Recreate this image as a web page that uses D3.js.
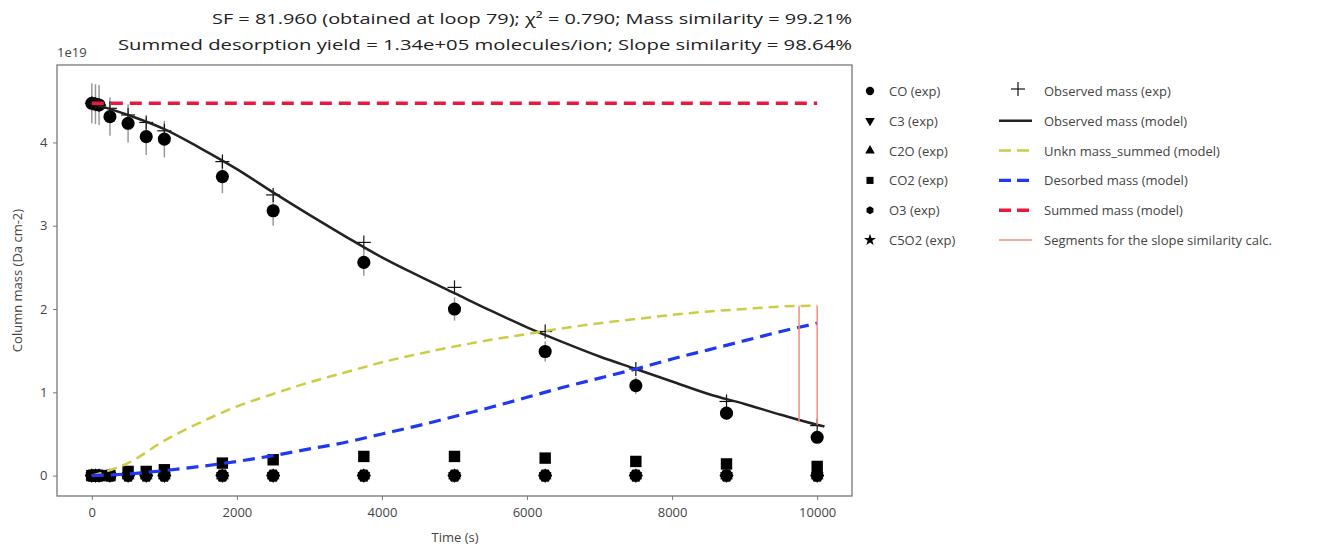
<!DOCTYPE html>
<html>
<head>
<meta charset="utf-8">
<script src="https://cdn.jsdelivr.net/npm/d3@7"></script>
<style>
  body { margin: 0; background: #fff; }
  svg { display: block; }
  text { font-family: "Open Sans", "DejaVu Sans", sans-serif; }
</style>
</head>
<body>
<svg id="chart" width="1343" height="548"></svg>
<script>
// experimental sampling times (s) and values in units of 1e19 Da cm-2
var timesExp = [0, 50, 100, 250, 500, 750, 1000, 1800, 2500, 3750, 5000, 6250, 7500, 8750, 10000];
var coExp   = [4.47, 4.46, 4.45, 4.31, 4.23, 4.07, 4.04, 3.59, 3.18, 2.56, 2.00, 1.49, 1.08, 0.75, 0.46];
var coErr   = [0.24, 0.24, 0.24, 0.23, 0.23, 0.22, 0.22, 0.20, 0.18, 0.16, 0.14, 0.12, 0.10, 0.08, 0.05];
var c3Exp   = [0, 0, 0, 0, 0, 0, 0, 0, 0, 0, 0, 0, 0, 0, 0];
var c2oExp  = [0, 0, 0, 0, 0, 0, 0, 0, 0, 0, 0, 0, 0, 0, 0];
var co2Exp  = [0, 0, 0, 0, 0.05, 0.05, 0.07, 0.15, 0.19, 0.23, 0.23, 0.21, 0.17, 0.14, 0.11];
var o3Exp   = [0, 0, 0, 0, 0, 0, 0, 0, 0, 0, 0, 0, 0, 0, 0];
var c5o2Exp = [0, 0, 0, 0, 0, 0, 0, 0, 0, 0, 0, 0, 0, 0, 0];
var observedExp = [4.47, 4.46, 4.45, 4.41, 4.33, 4.24, 4.14, 3.77, 3.37, 2.80, 2.26, 1.73, 1.28, 0.89, 0.60];

// model curves
var timesModel = [0, 500, 1000, 1500, 2000, 2500, 3000, 3500, 4000, 4500, 5000, 5500, 6000, 6500, 7000, 7500, 8000, 8500, 9000, 9500, 10000, 10100];
var observedModel = [4.47, 4.33, 4.16, 3.93, 3.68, 3.40, 3.13, 2.87, 2.62, 2.40, 2.19, 1.98, 1.78, 1.60, 1.43, 1.28, 1.13, 0.98, 0.86, 0.73, 0.61, 0.59];
var unknModel     = [0, 0.15, 0.42, 0.64, 0.83, 0.98, 1.12, 1.24, 1.36, 1.46, 1.55, 1.63, 1.70, 1.77, 1.83, 1.88, 1.93, 1.97, 2.00, 2.03, 2.04];
var desorbedModel = [0, 0.02, 0.06, 0.11, 0.17, 0.24, 0.32, 0.40, 0.50, 0.60, 0.71, 0.82, 0.94, 1.06, 1.17, 1.28, 1.40, 1.51, 1.62, 1.73, 1.83];
var summedModel   = [4.47, 4.47, 4.47, 4.47, 4.47, 4.47, 4.47, 4.47, 4.47, 4.47, 4.47, 4.47, 4.47, 4.47, 4.47, 4.47, 4.47, 4.47, 4.47, 4.47, 4.47];

// slope similarity segments (time, top, bottom)
var segTimes  = [9750, 10000];
var segTop    = [2.04, 2.04];
var segBottom = [0.64, 0.61];

var xTicks = [0, 2000, 4000, 6000, 8000, 10000];
var yTicks = [0, 1, 2, 3, 4];

var titleLines = [
    "SF = 81.960 (obtained at loop 79); \u03C7\u00B2 = 0.790; Mass similarity = 99.21%",
    "Summed desorption yield = 1.34e+05 molecules/ion; Slope similarity = 98.64%"
];

var svg = d3.select("#chart");
var plotLeft = 57, plotRight = 852, plotTop = 65, plotBottom = 496;

var x = d3.scaleLinear().domain([-480, 10480]).range([plotLeft, plotRight]);
var y = d3.scaleLinear().domain([-0.245, 4.93]).range([plotBottom, plotTop]);

// title
svg.append("text").attr("x", plotRight).attr("y", 24).attr("text-anchor", "end")
    .attr("font-size", 15).attr("fill", "#222")
    .attr("textLength", 640).attr("lengthAdjust", "spacingAndGlyphs")
    .text(titleLines[0]);
svg.append("text").attr("x", plotRight).attr("y", 50).attr("text-anchor", "end")
    .attr("font-size", 15).attr("fill", "#222")
    .attr("textLength", 734).attr("lengthAdjust", "spacingAndGlyphs")
    .text(titleLines[1]);

// axes
var xAxis = svg.append("g").attr("transform", "translate(0," + plotBottom + ")")
    .call(d3.axisBottom(x).tickValues(xTicks).tickSize(4).tickSizeOuter(0).tickFormat(d3.format("d")));
var yAxis = svg.append("g").attr("transform", "translate(" + plotLeft + ",0)")
    .call(d3.axisLeft(y).tickValues(yTicks).tickSize(4).tickSizeOuter(0).tickFormat(d3.format("d")));
[xAxis, yAxis].forEach(function (a) {
    a.select(".domain").remove();
    a.selectAll("line").attr("stroke", "#777");
    a.selectAll("text").attr("font-size", 13).attr("fill", "#444")
        .attr("font-family", "\"Open Sans\", sans-serif");
});
xAxis.selectAll("text").attr("dy", "1.05em");
yAxis.selectAll("text").attr("dx", "-0.2em");

// frame
svg.append("rect").attr("x", plotLeft).attr("y", plotTop)
    .attr("width", plotRight - plotLeft).attr("height", plotBottom - plotTop)
    .attr("fill", "none").attr("stroke", "#777").attr("stroke-width", 1.3);

svg.append("text").attr("x", plotLeft).attr("y", 57).attr("font-size", 13).attr("fill", "#444").text("1e19");
svg.append("text").attr("x", 455).attr("y", 542).attr("text-anchor", "middle")
    .attr("font-size", 13).attr("fill", "#444").text("Time (s)");
svg.append("text").attr("transform", "translate(22," + ((plotTop + plotBottom) / 2) + ") rotate(-90)")
    .attr("text-anchor", "middle").attr("font-size", 13).attr("fill", "#444").text("Column mass (Da cm-2)");

var plot = svg.append("g");

// marker shapes
function hexPath(r) {
    var pts = d3.range(6).map(function (i) {
        var a = i * Math.PI / 3;
        return [r * Math.cos(a), r * Math.sin(a)];
    });
    return "M" + pts.join("L") + "Z";
}
var shapes = {
    circle: d3.symbol().type(d3.symbolCircle).size(135)(),
    tri: d3.symbol().type(d3.symbolTriangle).size(70)(),
    square: d3.symbol().type(d3.symbolSquare).size(130)(),
    hex: hexPath(7),
    star: d3.symbol().type(d3.symbolStar).size(50)()
};
var legendShapes = {
    circle: d3.symbol().type(d3.symbolCircle).size(55)(),
    tri: d3.symbol().type(d3.symbolTriangle).size(40)(),
    square: d3.symbol().type(d3.symbolSquare).size(50)(),
    hex: hexPath(4),
    star: d3.symbol().type(d3.symbolStar).size(45)()
};

// error bars on CO
plot.append("g").selectAll("line").data(timesExp).join("line")
    .attr("x1", function (d) { return x(d); }).attr("x2", function (d) { return x(d); })
    .attr("y1", function (d, i) { return y(coExp[i] - coErr[i]); })
    .attr("y2", function (d, i) { return y(coExp[i] + coErr[i]); })
    .attr("stroke", "#999").attr("stroke-width", 1.5);

function drawMarkers(values, path, rot) {
    plot.append("g").selectAll("path").data(values).join("path")
        .attr("d", path)
        .attr("transform", function (d, i) {
            return "translate(" + x(timesExp[i]) + "," + y(d) + ")" + (rot ? " rotate(" + rot + ")" : "");
        })
        .attr("fill", "#000");
}
drawMarkers(c3Exp, shapes.tri, 180);
drawMarkers(c2oExp, shapes.tri, 0);
drawMarkers(c5o2Exp, shapes.star, 0);
drawMarkers(o3Exp, shapes.hex, 0);
drawMarkers(co2Exp, shapes.square, 0);
drawMarkers(coExp, shapes.circle, 0);

// observed mass (exp) crosses
var crosses = plot.append("g").selectAll("g").data(observedExp).join("g")
    .attr("transform", function (d, i) { return "translate(" + x(timesExp[i]) + "," + y(d) + ")"; });
crosses.append("line").attr("x1", -7).attr("x2", 7).attr("stroke", "#111").attr("stroke-width", 1.2);
crosses.append("line").attr("y1", -7).attr("y2", 7).attr("stroke", "#111").attr("stroke-width", 1.2);

// model lines
function modelLine(values, color, width, dash) {
    var line = d3.line().x(function (d, i) { return x(timesModel[i]); }).y(function (d) { return y(d); })
        .curve(d3.curveMonotoneX);
    plot.append("path").datum(values).attr("d", line)
        .attr("fill", "none").attr("stroke", color).attr("stroke-width", width)
        .attr("stroke-dasharray", dash);
}
modelLine(observedModel, "#222", 2.5, null);
modelLine(unknModel, "#cccc44", 2.5, "10,6");
modelLine(desorbedModel, "#2038f0", 3.2, "12,7");
modelLine(summedModel, "#e8193c", 3.5, "12,7");

// slope segments
plot.append("g").selectAll("line").data(segTimes).join("line")
    .attr("x1", function (d) { return x(d); }).attr("x2", function (d) { return x(d); })
    .attr("y1", function (d, i) { return y(segTop[i]); })
    .attr("y2", function (d, i) { return y(segBottom[i]); })
    .attr("stroke", "#f58c80").attr("stroke-width", 1.5);

// legend
var legendLeft = [
    {label: "CO (exp)", shape: "circle", rot: 0},
    {label: "C3 (exp)", shape: "tri", rot: 180},
    {label: "C2O (exp)", shape: "tri", rot: 0},
    {label: "CO2 (exp)", shape: "square", rot: 0},
    {label: "O3 (exp)", shape: "hex", rot: 30},
    {label: "C5O2 (exp)", shape: "star", rot: 0}
];
var legendRight = [
    {label: "Observed mass (exp)", type: "cross"},
    {label: "Observed mass (model)", type: "line", color: "#222", width: 2.5, dash: null},
    {label: "Unkn mass_summed (model)", type: "line", color: "#cccc44", width: 2.5, dash: "10,6"},
    {label: "Desorbed mass (model)", type: "line", color: "#2038f0", width: 3.2, dash: "12,7"},
    {label: "Summed mass (model)", type: "line", color: "#e8193c", width: 3.5, dash: "12,7"},
    {label: "Segments for the slope similarity calc.", type: "line", color: "#f58c80", width: 1.5, dash: null}
];
var legend = svg.append("g");
var rowY = function (i) { return 91 + i * 29.8; };

legendLeft.forEach(function (d, i) {
    legend.append("path").attr("d", legendShapes[d.shape])
        .attr("transform", "translate(870," + rowY(i) + ") rotate(" + d.rot + ")")
        .attr("fill", "#000");
    legend.append("text").attr("x", 889).attr("y", rowY(i) + 5).attr("font-size", 13)
        .attr("fill", "#444").text(d.label);
});

legendRight.forEach(function (d, i) {
    var yy = rowY(i);
    if (d.type === "cross") {
        legend.append("line").attr("x1", 1011).attr("x2", 1025).attr("y1", yy - 2).attr("y2", yy - 2)
            .attr("stroke", "#111").attr("stroke-width", 1.2);
        legend.append("line").attr("x1", 1018).attr("x2", 1018).attr("y1", yy - 9).attr("y2", yy + 5)
            .attr("stroke", "#111").attr("stroke-width", 1.2);
    } else {
        legend.append("line").attr("x1", 999).attr("x2", 1032).attr("y1", yy).attr("y2", yy)
            .attr("stroke", d.color).attr("stroke-width", d.width)
            .attr("stroke-dasharray", d.dash ? "12,6" : null);
    }
    legend.append("text").attr("x", 1044).attr("y", yy + 5).attr("font-size", 13)
        .attr("fill", "#444").text(d.label);
});
</script>
</body>
</html>
